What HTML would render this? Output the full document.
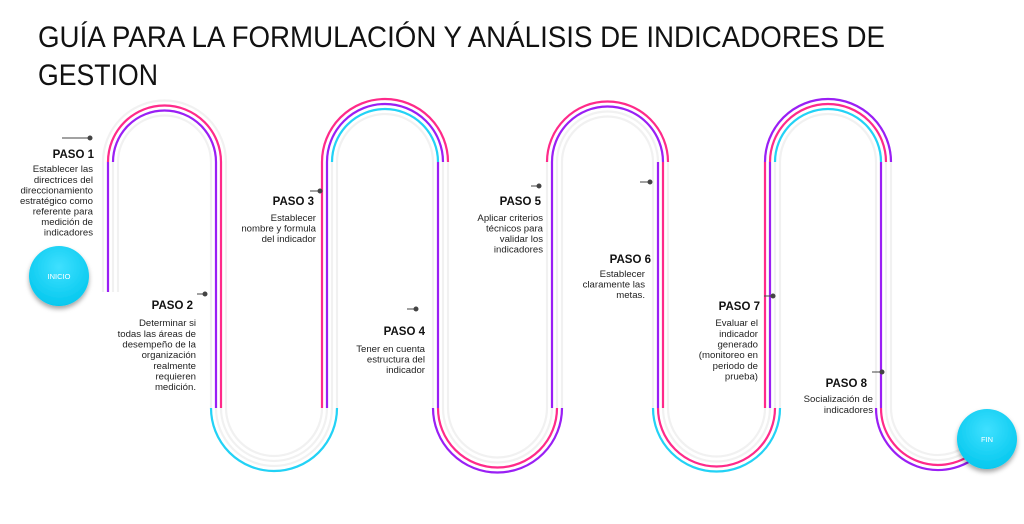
<!DOCTYPE html>
<html><head><meta charset="utf-8"><style>
html,body{margin:0;padding:0;background:#fff;}
svg{display:block;font-family:"Liberation Sans",sans-serif;}
.h{font-weight:bold;font-size:11.5px;fill:#111;}
.t{font-size:9.6px;fill:#222;}
</style></head><body>
<svg id="s" width="1024" height="524" viewBox="0 0 1024 524" xmlns="http://www.w3.org/2000/svg">
<defs>
<radialGradient id="cg" cx="50%" cy="35%" r="65%"><stop offset="0" stop-color="#3fe0ff"/><stop offset="1" stop-color="#05c8ee"/></radialGradient>
<filter id="sh" x="-30%" y="-30%" width="160%" height="170%"><feDropShadow dx="0" dy="3" stdDeviation="2.5" flood-color="#000" flood-opacity="0.35"/></filter>
</defs>
<text x="38" y="47" font-size="30" fill="#111" textLength="847" lengthAdjust="spacingAndGlyphs">GUÍA PARA LA FORMULACIÓN Y ANÁLISIS DE INDICADORES DE</text>
<text x="38" y="85" font-size="30" fill="#111" textLength="120" lengthAdjust="spacingAndGlyphs">GESTION</text>
<g id="tracks" fill="none" stroke-width="2.2" stroke-linecap="butt"></g>
<g fill="#444" stroke="#444" stroke-width="1">
<line x1="62" y1="138" x2="90" y2="138"/><circle cx="90" cy="138" r="2"/>
<line x1="197" y1="294" x2="205" y2="294"/><circle cx="205" cy="294" r="2"/>
<line x1="310" y1="191" x2="320" y2="191"/><circle cx="320" cy="191" r="2"/>
<line x1="407" y1="309" x2="416" y2="309"/><circle cx="416" cy="309" r="2"/>
<line x1="531" y1="186" x2="539" y2="186"/><circle cx="539" cy="186" r="2"/>
<line x1="640" y1="182" x2="650" y2="182"/><circle cx="650" cy="182" r="2"/>
<line x1="764" y1="296" x2="773" y2="296"/><circle cx="773" cy="296" r="2"/>
<line x1="872" y1="372" x2="882" y2="372"/><circle cx="882" cy="372" r="2"/>
</g>
<g text-anchor="end">
<text class="h" x="94" y="158">PASO 1</text>
<text class="t" x="93" y="172">Establecer las</text>
<text class="t" x="93" y="183">directrices del</text>
<text class="t" x="93" y="193.5">direccionamiento</text>
<text class="t" x="93" y="204">estratégico como</text>
<text class="t" x="93" y="214.5">referente para</text>
<text class="t" x="93" y="225">medición de</text>
<text class="t" x="93" y="235.5">indicadores</text>

<text class="h" x="193" y="309">PASO 2</text>
<text class="t" x="196" y="326">Determinar si</text>
<text class="t" x="196" y="337">todas las áreas de</text>
<text class="t" x="196" y="347.5">desempeño de la</text>
<text class="t" x="196" y="358">organización</text>
<text class="t" x="196" y="369">realmente</text>
<text class="t" x="196" y="379.5">requieren</text>
<text class="t" x="196" y="390">medición.</text>

<text class="h" x="314" y="205">PASO 3</text>
<text class="t" x="316" y="221">Establecer</text>
<text class="t" x="316" y="231.5">nombre y formula</text>
<text class="t" x="316" y="242">del indicador</text>

<text class="h" x="425" y="335">PASO 4</text>
<text class="t" x="425" y="352">Tener en cuenta</text>
<text class="t" x="425" y="362.5">estructura del</text>
<text class="t" x="425" y="373">indicador</text>

<text class="h" x="541" y="205">PASO 5</text>
<text class="t" x="543" y="221">Aplicar criterios</text>
<text class="t" x="543" y="231.5">técnicos para</text>
<text class="t" x="543" y="242">validar los</text>
<text class="t" x="543" y="252.5">indicadores</text>

<text class="h" x="651" y="263">PASO 6</text>
<text class="t" x="645" y="277">Establecer</text>
<text class="t" x="645" y="287.5">claramente las</text>
<text class="t" x="645" y="298">metas.</text>

<text class="h" x="760" y="310">PASO 7</text>
<text class="t" x="758" y="326">Evaluar el</text>
<text class="t" x="758" y="337">indicador</text>
<text class="t" x="758" y="347.5">generado</text>
<text class="t" x="758" y="358">(monitoreo en</text>
<text class="t" x="758" y="369">periodo de</text>
<text class="t" x="758" y="379.5">prueba)</text>

<text class="h" x="867" y="387">PASO 8</text>
<text class="t" x="873" y="402">Socialización de</text>
<text class="t" x="873" y="413">indicadores</text>
</g>
<g filter="url(#sh)">
<circle cx="59" cy="276" r="30" fill="url(#cg)"/>
<circle cx="987" cy="439" r="30" fill="url(#cg)"/>
</g>
<text x="59" y="279" font-size="7.5" fill="#fff" text-anchor="middle">INICIO</text>
<text x="987" y="442" font-size="7.5" fill="#fff" text-anchor="middle">FIN</text>
</svg>
<script>
(function(){
var X=[111,218,330,440,555,660,773,883,993];
var TOP=162,BOT=408,D=[8,3,-2,-7];
var P='#9a1ff5',K='#ff2a8a',C='#22d2f6',G='#f1f1f1';
var col=[
[G,P,G,G],[G,K,P,G],[G,K,P,G],[G,G,G,C],
[K,P,G,G],[K,P,C,G],[G,G,P,G],[G,G,K,P],
[G,P,G,G],[K,P,G,G],[G,K,P,G],[G,G,K,C],
[K,P,G,G],[P,K,C,G],[G,G,P,G],[G,G,K,P]];
function seg(s,d){
  var k=Math.floor(s/4),m=s%4,i=2*k;
  if(m===0){var x=X[i]-d;return 'M'+x+' '+(s===0?292:BOT)+'V'+TOP;}
  if(m===1){var r=(X[i+1]-X[i])/2+d;return 'M'+(X[i]-d)+' '+TOP+'A'+r+' '+r+' 0 0 1 '+(X[i+1]+d)+' '+TOP;}
  if(m===2){var x=X[i+1]+d;return 'M'+x+' '+TOP+'V'+BOT;}
  var r=(X[i+2]-X[i+1])/2-d;
  if(s===15){var cx=(X[i+1]+X[i+2])/2,a=Math.PI*0.28;
    return 'M'+(X[i+1]+d)+' '+BOT+'A'+r+' '+r+' 0 0 0 '+(cx+r*Math.sin(a)).toFixed(1)+' '+(BOT+r*Math.cos(a)).toFixed(1);}
  return 'M'+(X[i+1]+d)+' '+BOT+'A'+r+' '+r+' 0 0 0 '+(X[i+2]-d)+' '+BOT;
}
var g=document.getElementById('tracks'),h='';
for(var s=0;s<16;s++)for(var l=0;l<4;l++){h+='<path d="'+seg(s,D[l])+'" stroke="'+G+'"/>';}
for(var s=0;s<16;s++)for(var l=0;l<4;l++){if(col[s][l]!==G)h+='<path d="'+seg(s,D[l])+'" stroke="'+col[s][l]+'"/>';}
g.innerHTML=h;
})();
</script>
</body></html>
